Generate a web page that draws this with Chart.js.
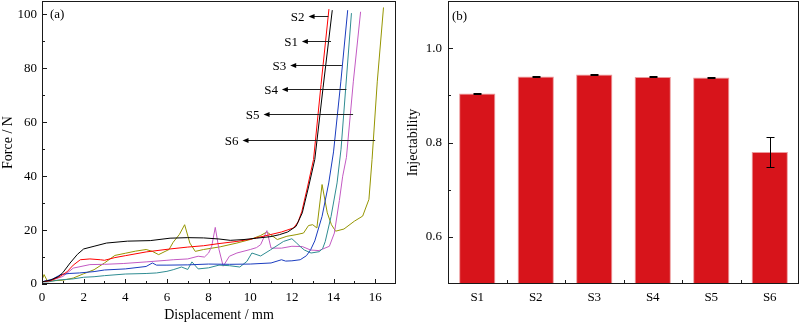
<!DOCTYPE html>
<html>
<head>
<meta charset="utf-8">
<script src="https://cdn.jsdelivr.net/npm/chart.js@4.4.0/dist/chart.umd.min.js"></script>
<style>
  body { margin: 0; background: #fff; }
  .panel { position: absolute; top: 0; width: 400px; height: 325px; }
  #panelA { left: 0; }
  #panelB { left: 400px; }
</style>
</head>
<body>
<div class="panel" id="panelA"><canvas id="forceChart" width="400" height="325"></canvas></div>
<div class="panel" id="panelB"><canvas id="injectChart" width="400" height="325"></canvas></div>
<script>
// Sample names
const sampleNames = ["S1", "S2", "S3", "S4", "S5", "S6"];

// (a) force / displacement curves
const dispS1 = [0, 0.4, 0.8, 1.0, 1.35, 1.7, 2.0, 2.5, 3.1, 4.1, 5.2, 6.15, 7.0, 7.76, 8.5, 9.04, 9.7, 10.3, 11.0, 11.4, 11.8, 12.2, 12.5, 12.8, 13.1, 13.5, 13.94];
const forceS1 = [0.8, 1.4, 2.8, 4.2, 7.8, 11, 13, 14, 15.2, 15.9, 16.1, 17.0, 17.2, 17.1, 16.7, 16.2, 16.5, 17.0, 17.6, 18.3, 19.3, 21.4, 26.4, 36, 46.2, 73, 101.6];

const dispS2 = [0, 0.4, 0.8, 1.2, 1.5, 1.84, 2.3, 2.8, 3.0, 3.5, 4.0, 5.0, 6.15, 7.0, 7.76, 8.5, 9.36, 10.0, 10.96, 11.5, 12.08, 12.3, 12.48, 12.75, 13.04, 13.4, 13.78];
const forceS2 = [0.8, 1.2, 2.5, 4.5, 7, 9.0, 9.3, 9.0, 8.8, 9.8, 10.5, 11.9, 13.0, 13.7, 14.2, 15.0, 15.8, 16.6, 18.3, 19.3, 20.8, 23, 27, 36, 46.2, 74, 102];

const dispS3 = [0, 0.5, 0.9, 1.3, 1.8, 2.5, 3.0, 4.0, 5.0, 5.3, 5.5, 6.0, 7.0, 8.0, 9.0, 10.0, 11.0, 11.5, 11.7, 12.0, 12.4, 12.7, 12.9, 13.1, 13.45, 13.77, 14.0, 14.35, 14.68];
const forceS3 = [0.8, 1.8, 3.5, 3.9, 4.1, 4.6, 5.2, 5.6, 6.5, 7.8, 7.0, 7.0, 7.1, 7.4, 7.3, 7.4, 7.8, 9.0, 8.5, 8.6, 9.0, 10.5, 12.7, 16, 25.1, 37.5, 49, 75, 101.6];

const dispS4 = [0, 0.3, 0.8, 1.5, 2.0, 2.5, 3.0, 4.0, 5.0, 5.5, 6.0, 6.3, 6.7, 7.0, 7.2, 7.5, 8.0, 8.5, 9.0, 9.5, 9.84, 10.08, 10.5, 10.96, 11.6, 12.0, 12.24, 12.4, 12.6, 12.92, 13.32, 13.48, 13.6, 13.88, 14.17, 14.36, 14.86];
const forceS4 = [0.8, 0.8, 1.5, 1.9, 2.5, 2.7, 3.1, 3.7, 3.9, 4.1, 4.7, 5.3, 6.3, 5.4, 8.2, 5.6, 6.0, 7.0, 6.8, 6.3, 8.4, 11.5, 10.4, 12.6, 15.8, 16.8, 15.1, 13.9, 12.6, 11.5, 12.0, 13.2, 15.7, 25, 37.5, 50, 100.5];

const dispS5 = [0, 0.5, 1.0, 1.5, 2.3, 3.0, 3.9, 5.0, 6.0, 6.3, 7.0, 7.5, 7.8, 8.0, 8.15, 8.32, 8.5, 8.7, 9.0, 9.36, 10.0, 10.3, 10.5, 10.8, 11.0, 11.5, 12.0, 12.5, 12.9, 13.3, 13.8, 14.04, 14.28, 14.44, 14.62, 14.95, 15.3];
const forceS5 = [0.8, 1.5, 2.8, 5.9, 7.2, 7.3, 7.6, 8.2, 8.8, 9.0, 9.3, 10.3, 10.0, 11.5, 14, 21, 12.8, 6.6, 10.3, 11.5, 12.8, 13.5, 14.6, 19.8, 13.3, 13.3, 14.0, 13.9, 12.6, 12.4, 14.0, 18.9, 31, 40, 47, 75, 101];

const dispS6 = [0, 0.1, 0.25, 0.5, 1.0, 1.5, 2.0, 2.5, 3.0, 3.5, 4.0, 4.5, 5.0, 5.3, 5.6, 6.1, 6.3, 6.6, 6.85, 7.1, 7.36, 7.76, 8.56, 9.36, 10.0, 10.5, 10.8, 11.3, 11.76, 12.2, 12.56, 12.8, 13.0, 13.2, 13.45, 13.7, 13.9, 14.1, 14.5, 15.0, 15.4, 15.7, 15.85, 16.1, 16.4];
const forceS6 = [1.5, 3.5, 1.2, 1.2, 1.4, 2.2, 3.8, 5.3, 7.8, 10.6, 11.4, 12.2, 12.8, 12.1, 10.9, 12.8, 15.5, 18.4, 22, 15.2, 12.1, 12.8, 13.8, 15.2, 16.5, 18.0, 19.3, 16.5, 17.7, 18.3, 18.9, 21.7, 22.0, 20.8, 36.9, 26.4, 22.0, 19.6, 20.4, 23.3, 25.2, 31.4, 46.2, 75, 102.6];

const curveColors = ["#000000", "#ff0000", "#1a3cbf", "#2f8c92", "#c35ac3", "#959500"];

// Axis ticks for (a)
const dispTicks = [0, 2, 4, 6, 8, 10, 12, 14, 16];
const dispMinorTicks = [1, 3, 5, 7, 9, 11, 13, 15];
const forceTicks = [0, 20, 40, 60, 80, 100];
const forceMinorTicks = [10, 30, 50, 70, 90];

// Arrow callouts for (a): force level, curve end, arrow tip
const arrowOrder = ["S2", "S1", "S3", "S4", "S5", "S6"];
const arrowForce = [99.5, 90.2, 81.3, 72.2, 63.2, 53.4];
const arrowFrom = [13.75, 13.88, 14.4, 14.62, 14.94, 16.0];
const arrowTo = [12.8, 12.48, 11.92, 11.52, 10.64, 9.63];

// (b) injectability
const injectability = [0.904, 0.940, 0.944, 0.939, 0.938, 0.780];
const injectabilityErr = [0.002, 0.001, 0.001, 0.001, 0.001, 0.032];
const injectTicks = [0.6, 0.8, 1.0];
const injectMinorTicks = [0.7, 0.9];
const sampleBoundaries = [0.5, 1.5, 2.5, 3.5, 4.5];

const SERIF = "'Liberation Serif', 'Times New Roman', serif";
const AXIS_COLOR = "#1a1a1a";

Chart.defaults.font.family = SERIF;
Chart.defaults.font.size = 13;
Chart.defaults.color = "#000";

// Frame around the plot area plus ticks pointing inwards
const frameTicks = {
  id: "frameTicks",
  afterDraw(chart, args, opts) {
    const { ctx, chartArea: a, scales } = chart;
    ctx.save();
    ctx.strokeStyle = AXIS_COLOR;
    ctx.lineWidth = 1;
    ctx.strokeRect(a.left + 0.5, a.top + 0.5, a.right - a.left - 1, a.bottom - a.top - 1);

    ctx.beginPath();
    const xTick = (values, len) => values.forEach(v => {
      const px = Math.round(scales.x.getPixelForValue(v)) + 0.5;
      ctx.moveTo(px, a.bottom);
      ctx.lineTo(px, a.bottom - len);
    });
    const yTick = (values, len) => values.forEach(v => {
      const py = Math.round(scales.y.getPixelForValue(v)) + 0.5;
      ctx.moveTo(a.left, py);
      ctx.lineTo(a.left + len, py);
    });
    xTick(opts.xMajor || [], opts.xMajorLen || 5);
    xTick(opts.xMinor || [], 3);
    yTick(opts.yMajor || [], 5);
    yTick(opts.yMinor || [], 3);
    ctx.stroke();

    // panel letter
    ctx.fillStyle = "#000";
    ctx.font = "13px " + SERIF;
    ctx.textAlign = "left";
    ctx.textBaseline = "middle";
    ctx.fillText(opts.letter, a.left + opts.letterDx, a.top + opts.letterDy);
    ctx.restore();
  }
};

// Horizontal arrows naming each curve
const arrowLabels = {
  id: "arrowLabels",
  afterDatasetsDraw(chart) {
    const { ctx, scales: { x, y } } = chart;
    ctx.save();
    ctx.strokeStyle = "#222";
    ctx.fillStyle = "#000";
    ctx.lineWidth = 1;
    ctx.font = "13px " + SERIF;
    ctx.textAlign = "right";
    ctx.textBaseline = "middle";
    arrowOrder.forEach((name, i) => {
      const py = Math.round(y.getPixelForValue(arrowForce[i])) + 0.5;
      const x0 = x.getPixelForValue(arrowFrom[i]);
      const x1 = x.getPixelForValue(arrowTo[i]);
      ctx.beginPath();
      ctx.moveTo(x0, py);
      ctx.lineTo(x1 + 5, py);
      ctx.stroke();
      ctx.beginPath();
      ctx.moveTo(x1, py);
      ctx.lineTo(x1 + 6, py - 2.5);
      ctx.lineTo(x1 + 6, py + 2.5);
      ctx.closePath();
      ctx.fill();
      ctx.fillText(name, x1 - 4, py + 1);
    });
    ctx.restore();
  }
};

// Error bars on top of the columns
const errorBars = {
  id: "errorBars",
  afterDatasetsDraw(chart) {
    const { ctx, scales: { y } } = chart;
    const meta = chart.getDatasetMeta(0);
    ctx.save();
    ctx.strokeStyle = "#000";
    ctx.lineWidth = 1;
    ctx.beginPath();
    meta.data.forEach((bar, i) => {
      const cx = Math.round(bar.x) + 0.5;
      const top = Math.round(y.getPixelForValue(injectability[i] + injectabilityErr[i])) + 0.5;
      const bottom = Math.round(y.getPixelForValue(injectability[i] - injectabilityErr[i])) + 0.5;
      ctx.moveTo(cx, top);
      ctx.lineTo(cx, bottom);
      ctx.moveTo(cx - 4, top);
      ctx.lineTo(cx + 4, top);
      ctx.moveTo(cx - 4, bottom);
      ctx.lineTo(cx + 4, bottom);
    });
    ctx.stroke();
    ctx.restore();
  }
};

const tickFont = { family: SERIF, size: 13 };
const titleFont = { family: SERIF, size: 14 };

// fixed axis box sizes, without the extra room chart.js keeps for edge labels
const fixHeight = (h) => (s) => {
  s.height = h;
  s.paddingLeft = 0;
  s.paddingRight = 0;
};
const fixWidth = (w) => (s) => {
  s.width = w;
  s.paddingTop = 0;
  s.paddingBottom = 0;
};

const setupForceChart = () => {
  const dispSets = [dispS1, dispS2, dispS3, dispS4, dispS5, dispS6];
  const forceSets = [forceS1, forceS2, forceS3, forceS4, forceS5, forceS6];

  const datasets = sampleNames.map((name, i) => ({
    label: name,
    data: dispSets[i].map((d, j) => ({ x: d, y: forceSets[i][j] })),
    borderColor: curveColors[i],
    backgroundColor: curveColors[i],
    borderWidth: 1,
    pointRadius: 0,
    tension: 0,
    fill: false
  }));

  new Chart(document.getElementById("forceChart"), {
    type: "line",
    data: { datasets },
    plugins: [frameTicks, arrowLabels],
    options: {
      responsive: false,
      animation: false,
      layout: { padding: { top: 1, right: 4, left: 0, bottom: 0 } },
      plugins: {
        legend: { display: false },
        tooltip: { enabled: false },
        frameTicks: {
          xMajor: dispTicks, xMinor: dispMinorTicks,
          yMajor: forceTicks, yMinor: forceMinorTicks,
          letter: "(a)", letterDx: 8, letterDy: 14
        }
      },
      scales: {
        x: {
          type: "linear",
          min: 0,
          max: 17,
          afterFit: fixHeight(41),
          afterBuildTicks: (s) => { s.ticks = dispTicks.map(v => ({ value: v })); },
          grid: { display: false, drawTicks: false },
          border: { display: false },
          ticks: { font: tickFont, color: "#000", padding: 6, maxRotation: 0 },
          title: { display: true, text: "Displacement / mm", font: titleFont, color: "#000", padding: { top: 0, bottom: 1 } }
        },
        y: {
          type: "linear",
          min: 0,
          max: 105,
          afterFit: fixWidth(42),
          afterBuildTicks: (s) => { s.ticks = forceTicks.map(v => ({ value: v })); },
          grid: { display: false, drawTicks: false },
          border: { display: false },
          ticks: { font: tickFont, color: "#000", padding: 5 },
          title: { display: true, text: "Force / N", font: titleFont, color: "#000", padding: { top: 0, bottom: 0 } }
        }
      }
    }
  });
}

const setupInjectChart = () => {
  new Chart(document.getElementById("injectChart"), {
    type: "bar",
    data: {
      labels: sampleNames,
      datasets: [{
        label: "Injectability",
        data: injectability,
        backgroundColor: "#d7141b",
        borderColor: "#ec9a9c",
        borderWidth: 1,
        categoryPercentage: 1,
        barPercentage: 0.62
      }]
    },
    plugins: [frameTicks, errorBars],
    options: {
      responsive: false,
      animation: false,
      layout: { padding: { top: 1, right: 1, left: 0, bottom: 0 } },
      plugins: {
        legend: { display: false },
        tooltip: { enabled: false },
        frameTicks: {
          xMajor: sampleBoundaries, xMajorLen: 4,
          yMajor: injectTicks, yMinor: injectMinorTicks,
          letter: "(b)", letterDx: 4, letterDy: 16
        }
      },
      scales: {
        x: {
          afterFit: fixHeight(41),
          grid: { display: false, drawTicks: false },
          border: { display: false },
          ticks: { font: tickFont, color: "#000", padding: 6 }
        },
        y: {
          min: 0.5,
          max: 1.1,
          afterFit: fixWidth(48),
          afterBuildTicks: (s) => { s.ticks = injectTicks.map(v => ({ value: v })); },
          grid: { display: false, drawTicks: false },
          border: { display: false },
          ticks: { font: tickFont, color: "#000", padding: 6, callback: (v) => Number(v).toFixed(1) },
          title: { display: true, text: "Injectability", font: titleFont, color: "#000", padding: { top: 5, bottom: 0 } }
        }
      }
    }
  });
}

const setup = () => {
  setupForceChart();
  setupInjectChart();
}

window.addEventListener("load", setup);
</script>
</body>
</html>
